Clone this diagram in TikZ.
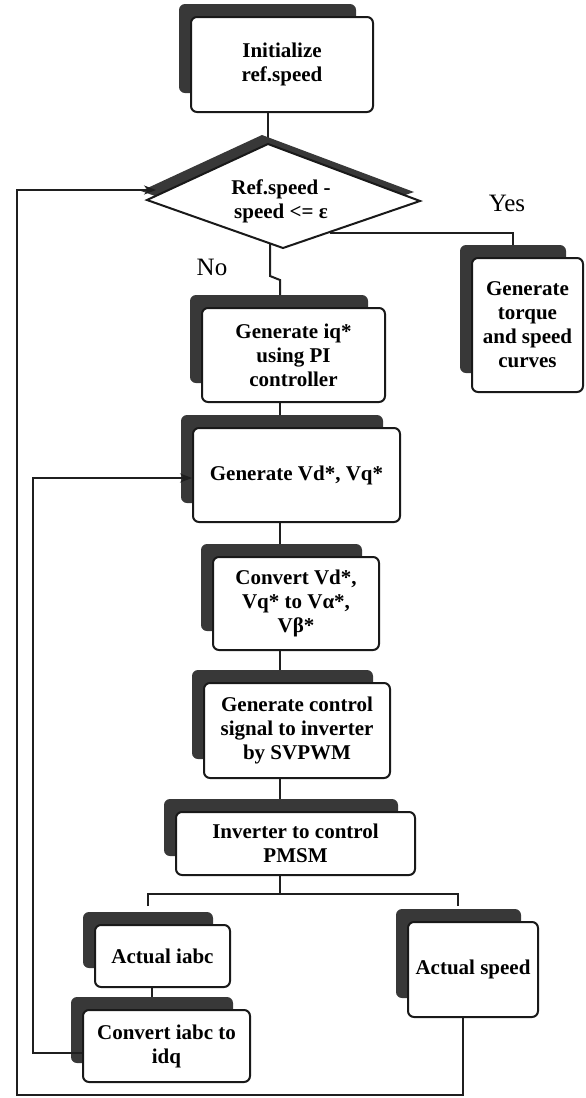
\documentclass[tikz,border=0pt]{standalone}
\usepackage{fontspec}
\setmainfont{Liberation Serif}
\usetikzlibrary{arrows.meta}
\pgfdeclarelayer{bg}
\pgfdeclarelayer{paper}
\pgfsetlayers{paper,bg,main}
\tikzset{
  stepbox/.style={draw=black!90, line width=2pt, rounded corners=6pt, fill=white, align=center,
    font=\fontsize{21}{24}\selectfont\bfseries, inner sep=0pt},
  shadowc/.style={fill=black!78, rounded corners=6pt},
  conn/.style={line width=2pt, draw=black!88},
  arr/.style={conn, -{Stealth[length=12pt,width=9pt]}},
  lbl/.style={font=\fontsize{25}{28}\selectfont, inner sep=0pt},
  dtext/.style={align=center, font=\fontsize{21}{24}\selectfont\bfseries, inner sep=0pt},
}
\newcommand{\mkbox}[6]{%
  \fill[shadowc] (#2-12,#3-13) rectangle (#4-17,#5-19);
  \node[stepbox, minimum width={(#4-#2)*1pt}, minimum height={(#5-#3)*1pt}] (#1) at ({(#2+#4)/2},{(#3+#5)/2}) {#6};
}
\begin{document}
\begin{tikzpicture}[x=1pt,y=-1pt]
\useasboundingbox (0,0) rectangle (586,1098);
\begin{pgfonlayer}{paper}
\fill[white] (0,0) rectangle (586,1098);
\end{pgfonlayer}

% boxes
\mkbox{init}{191}{17}{373}{112}{Initialize\\ref.speed}
\mkbox{torque}{472}{258}{583}{392}{Generate\\torque\\and speed\\curves}
\mkbox{iq}{202}{308}{385}{402}{Generate iq*\\using PI\\controller}
\mkbox{vd}{193}{428}{400}{522}{Generate Vd*, Vq*}
\mkbox{cvd}{213}{557}{379}{650}{Convert Vd*,\\Vq* to Vα*,\\Vβ*}
\mkbox{gcs}{204}{683}{390}{778}{Generate control\\signal to inverter\\by SVPWM}
\mkbox{inv}{176}{812}{415}{875}{Inverter to control\\PMSM}
\mkbox{aia}{95}{925}{230}{987}{Actual iabc}
\mkbox{cia}{83}{1010}{250}{1082}{Convert iabc to\\idq}
\mkbox{spd}{408}{922}{538}{1017}{Actual speed}

% decision diamond
\coordinate (dT) at (268,144);
\coordinate (dR) at (420,201);
\coordinate (dB) at (283,248);
\coordinate (dL) at (147,200);
\fill[black!78] ([shift={(-6,-9)}]dT) -- ([shift={(-6,-9)}]dR) -- ([shift={(-6,-9)}]dB) -- ([shift={(-6,-9)}]dL) -- cycle;
\draw[line width=2pt, draw=black!90, fill=white] (dT) -- (dR) -- (dB) -- (dL) -- cycle;
\node[dtext] (dec) at (281,201) {Ref.speed -\\speed <= ε};

\node[lbl] (yes) at (507,203) {Yes};
\node[lbl] (no) at (212,267) {No};

% helper coordinates
\coordinate (sp) at (280,0);
\coordinate (ys) at (330,233);
\coordinate (ye) at (513,250);
\coordinate (ns) at (270,240);
\coordinate (br) at (280,894);
\coordinate (bl) at (148,906);
\coordinate (brr) at (458,906);
\coordinate (cx) at (152,0);
\coordinate (dIn) at (156,190);

\begin{pgfonlayer}{bg}
\draw[conn] (dT |- init.south) -- (dT);
\draw[conn] (ys) -- (ye |- ys) -- (ye);
\draw[conn] (ns) -- ++(0,36) -- ++(10,4) -- (iq.north -| sp);
\draw[conn] (iq.south -| sp) -- (vd.north -| sp);
\draw[conn] (vd.south -| sp) -- (cvd.north -| sp);
\draw[conn] (cvd.south -| sp) -- (gcs.north -| sp);
\draw[conn] (gcs.south -| sp) -- (inv.north -| sp);
\draw[conn] (inv.south -| sp) -- (br);
\draw[conn] (bl) |- (br) -| (brr);
\draw[conn] (aia.south -| cx) -- (cia.north -| cx);
\end{pgfonlayer}

% feedback loops
\draw[arr] ([yshift=-7pt]cia.west) -- ++(-49,0) |- ([yshift=-3pt]vd.west);
\draw[arr, line width=2.4pt] ([xshift=-10pt]spd.south) -- ++(0,77) -- ++(-446,0) |- (dIn);
\end{tikzpicture}
\end{document}
